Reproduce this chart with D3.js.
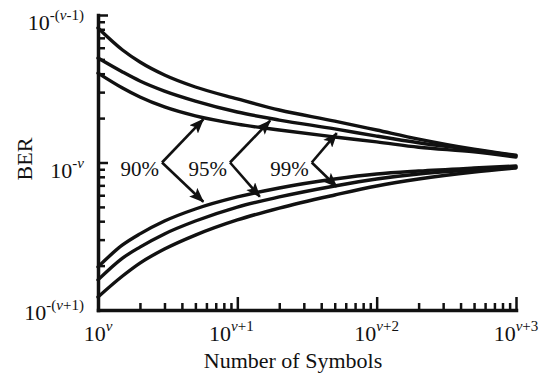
<!DOCTYPE html>
<html lang="en">
<head>
<meta charset="UTF-8">
<title>BER vs Number of Symbols</title>
<script src="https://d3js.org/d3.v7.min.js"></script>
<style>
  body { margin: 0; background: #fff; }
</style>
</head>
<body>
<svg id="chart" width="539" height="377"></svg>
<script>
// number of symbols, relative to 10^v
var symbols = [1, 1.5, 2, 3, 5, 10, 20, 50, 100, 200, 500, 1000];

// BER bounds, relative to 10^-v
var upper99 = [8.16, 5.79, 4.80, 3.92, 3.25, 2.70, 2.27, 1.91, 1.66, 1.44, 1.23, 1.12];
var upper95 = [5.11, 4.11, 3.57, 3.05, 2.61, 2.20, 1.94, 1.69, 1.51, 1.36, 1.215, 1.11];
var upper90 = [4.04, 3.20, 2.78, 2.38, 2.07, 1.82, 1.66, 1.49, 1.38, 1.27, 1.18, 1.09];
var lower90 = [0.196, 0.276, 0.328, 0.401, 0.484, 0.584, 0.672, 0.773, 0.836, 0.876, 0.918, 0.947];
var lower95 = [0.160, 0.225, 0.267, 0.328, 0.401, 0.499, 0.584, 0.693, 0.773, 0.836, 0.890, 0.932];
var lower99 = [0.1225, 0.170, 0.208, 0.259, 0.322, 0.408, 0.491, 0.602, 0.693, 0.773, 0.862, 0.918];

// confidence arrows
var confLabels = ["90%", "95%", "99%"];
var vertexN = [2.88, 8.86, 34.2];
var upTipN = [5.70, 17.2, 51.7];
var upTipBer = [1.96, 1.92, 1.58];
var downTipN = [5.70, 14.5, 51.7];
var downTipBer = [0.542, 0.586, 0.685];

// tick labels
var xTickVals = [1, 10, 100, 1000];
var xTickSup = ["\u03bd", "\u03bd+1", "\u03bd+2", "\u03bd+3"];
var yTickVals = [10, 1, 0.1];
var yTickSup = [["-(", "\u03bd", "-1)"], ["-", "\u03bd", ""], ["-(", "\u03bd", "+1)"]];

var serif = "'Liberation Serif', 'DejaVu Serif', serif";
var svg = d3.select("#chart").attr("font-family", serif);

var x = d3.scaleLog().domain([1, 1000]).range([98, 516]);
var y = d3.scaleLog().domain([0.1, 10]).range([310, 15]);

function isDecade(v) {
  var l = Math.log10(v);
  return Math.abs(l - Math.round(l)) < 1e-6;
}

// x axis, ticks pointing up
var xAxis = svg.append("g")
  .attr("transform", "translate(0,310)")
  .call(d3.axisBottom(x).tickSizeInner(-7).tickSizeOuter(0).tickFormat(""));
xAxis.select(".domain").attr("stroke", "#111").attr("stroke-width", 3.5).attr("stroke-linecap", "square");
xAxis.selectAll(".tick line")
  .attr("stroke", "#111").attr("stroke-width", 2.5)
  .attr("y2", function (d) { return isDecade(d) ? -13 : -7; })
  .attr("display", function (d) { return d === 1 ? "none" : null; });

// y axis, ticks pointing right
var yAxis = svg.append("g")
  .attr("transform", "translate(98,0)")
  .call(d3.axisLeft(y).tickSizeInner(-7).tickSizeOuter(0).tickFormat(""));
yAxis.select(".domain").attr("stroke", "#111").attr("stroke-width", 3.5).attr("stroke-linecap", "square");
yAxis.selectAll(".tick line")
  .attr("stroke", "#111").attr("stroke-width", 2.5)
  .attr("x2", function (d) { return isDecade(d) ? 10 : 7; })
  .attr("display", function (d) { return d === 0.1 ? "none" : null; });

function label() {
  return svg.append("text")
    .style("font-family", serif)
    .style("fill", "#111");
}

// x tick labels
xTickVals.forEach(function (v, i) {
  var t = label()
    .attr("x", x(v) - (i === 1 ? 6 : 0))
    .attr("y", 341)
    .attr("text-anchor", "middle")
    .style("font-size", "22px");
  t.append("tspan").text("10");
  t.append("tspan").attr("dy", -10).style("font-size", "15px")
    .style("font-style", "italic").text(xTickSup[i].charAt(0));
  if (xTickSup[i].length > 1)
    t.append("tspan").style("font-size", "15px").text(xTickSup[i].slice(1));
});

// y tick labels
yTickVals.forEach(function (v, i) {
  var t = label()
    .attr("x", 84)
    .attr("y", y(v) + (i === 2 ? 10 : 15))
    .attr("text-anchor", "end")
    .style("font-size", "22px");
  t.append("tspan").text("10");
  t.append("tspan").attr("dy", -10).style("font-size", "15px").text(yTickSup[i][0]);
  t.append("tspan").style("font-size", "15px").style("font-style", "italic").text(yTickSup[i][1]);
  if (yTickSup[i][2])
    t.append("tspan").style("font-size", "15px").text(yTickSup[i][2]);
});

// axis titles
label()
  .attr("x", 293).attr("y", 368)
  .attr("text-anchor", "middle")
  .style("font-size", "22px")
  .text("Number of Symbols");

label()
  .attr("transform", "rotate(-90)")
  .attr("x", -159).attr("y", 32)
  .attr("text-anchor", "middle")
  .style("font-size", "22px")
  .text("BER");

// curves
var line = d3.line()
  .x(function (d) { return x(d[0]); })
  .y(function (d) { return y(d[1]); })
  .curve(d3.curveMonotoneX);

[upper99, upper95, upper90, lower90, lower95, lower99].forEach(function (series) {
  svg.append("path")
    .datum(symbols.map(function (n, i) { return [n, series[i]]; }))
    .attr("d", line)
    .attr("fill", "none")
    .attr("stroke", "#111")
    .attr("stroke-width", 3.4)
    .attr("stroke-linecap", "round");
});

// arrowhead
svg.append("defs").append("marker")
  .attr("id", "head")
  .attr("markerUnits", "userSpaceOnUse")
  .attr("viewBox", "0 0 14 11")
  .attr("refX", 13).attr("refY", 5.5)
  .attr("markerWidth", 15).attr("markerHeight", 12)
  .attr("orient", "auto")
  .append("path")
  .attr("d", "M0,0 L14,5.5 L0,11 L3,5.5 Z")
  .attr("fill", "#111");

confLabels.forEach(function (lab, i) {
  var vx = x(vertexN[i]), vy = y(1);
  svg.append("line")
    .attr("x1", vx).attr("y1", vy)
    .attr("x2", x(upTipN[i])).attr("y2", y(upTipBer[i]))
    .attr("stroke", "#111").attr("stroke-width", 2.6)
    .attr("marker-end", "url(#head)");
  svg.append("line")
    .attr("x1", vx).attr("y1", vy)
    .attr("x2", x(downTipN[i])).attr("y2", y(downTipBer[i]))
    .attr("stroke", "#111").attr("stroke-width", 2.6)
    .attr("marker-end", "url(#head)");
  label()
    .attr("x", vx - 3).attr("y", vy + 13)
    .attr("text-anchor", "end")
    .style("font-size", "21px")
    .text(lab);
});
</script>
</body>
</html>
